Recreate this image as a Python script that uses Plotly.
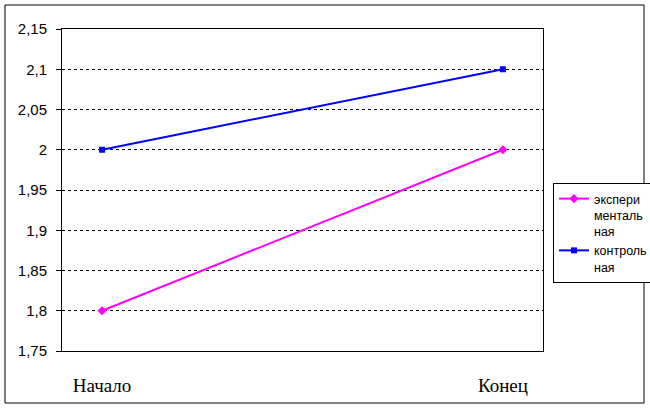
import plotly.graph_objects as go

categories = ["Начало", "Конец"]
exp_values = [1.8, 2.0]
ctrl_values = [2.0, 2.1]
series_names = ["экспери<br>менталь<br>ная", "контроль<br>ная"]
y_ticks = [1.75, 1.8, 1.85, 1.9, 1.95, 2.0, 2.05, 2.1, 2.15]

xpos = list(range(len(categories)))

fig = go.Figure()
fig.add_trace(go.Scatter(x=xpos, y=exp_values, name=series_names[0], mode="lines+markers",
                         line=dict(color="#ff00ff", width=2),
                         marker=dict(symbol="diamond", size=7, color="#ff00ff")))
fig.add_trace(go.Scatter(x=xpos, y=ctrl_values, name=series_names[1], mode="lines+markers",
                         line=dict(color="#0000ff", width=2),
                         marker=dict(symbol="square", size=6, color="#0000ff")))

L, T, R, B = 62, 29, 543, 351
W, H = 650, 411
pw, ph = R - L, B - T

fig.update_layout(
    width=W, height=H,
    margin=dict(l=L, r=W - R, t=T, b=H - B, autoexpand=False),
    paper_bgcolor="white", plot_bgcolor="white",
    separators=", ",
    showlegend=True,
    legend=dict(x=(553 - L) / pw, y=(B - 183) / ph, xanchor="left", yanchor="top",
                bordercolor="black", borderwidth=1, bgcolor="white", valign="top",
                font=dict(family="Arial", size=12.5, color="black"),
                tracegroupgap=0, itemwidth=30),
    xaxis=dict(range=[-0.1, 1.1], tickvals=xpos, ticktext=categories,
               showgrid=False, zeroline=False, showline=True, linecolor="black", linewidth=1,
               mirror=True, ticks="", ticklabelstandoff=17,
               tickfont=dict(family="Times New Roman, Liberation Serif", size=19, color="black")),
    yaxis=dict(range=[1.75, 2.15], tickvals=y_ticks, tickformat=".2~f",
               showgrid=True, gridcolor="black", gridwidth=1, griddash="3px,3px",
               zeroline=False, showline=True, linecolor="black", linewidth=1, mirror=True,
               ticks="outside", ticklen=5, tickcolor="black", ticklabelstandoff=6,
               tickfont=dict(family="Arial", size=15, color="black")),
)

fig.add_shape(type="rect", xref="paper", yref="paper",
              x0=(5 - L) / pw, x1=(644 - L) / pw, y0=(B - 403) / ph, y1=(B - 5) / ph,
              line=dict(color="black", width=1), layer="below")

fig.write_html("out.html", config={"displayModeBar": False},
               post_script="document.body.style.margin='0';document.body.style.overflow='hidden';")
